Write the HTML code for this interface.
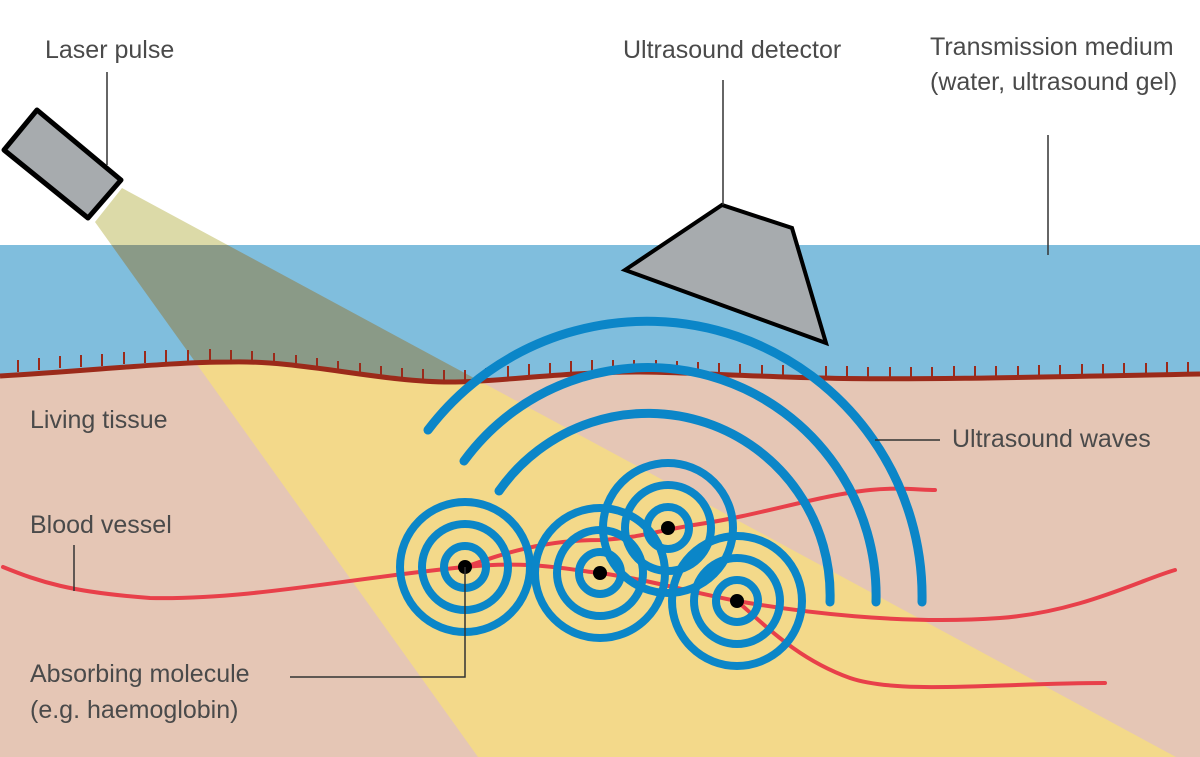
<!DOCTYPE html>
<html><head><meta charset="utf-8"><style>
html,body{margin:0;padding:0;background:#fff}
svg{display:block}
text{font-family:"Liberation Sans",sans-serif;font-size:25px;fill:#4a4a4a}
</style></head><body>
<svg width="1200" height="757" viewBox="0 0 1200 757" xmlns="http://www.w3.org/2000/svg">
<defs>
<clipPath id="air"><rect x="0" y="0" width="1200" height="245"/></clipPath>
<clipPath id="water"><path d="M0,245 H1200 V374 C1000,378 900,380 820,378 C740,376 680,372 640,372 C560,372 500,382 450,382 C380,382 300,360 230,362 C170,362 100,370 0,376 Z"/></clipPath>
<clipPath id="tissue"><path d="M0,757 H1200 V374 C1000,378 900,380 820,378 C740,376 680,372 640,372 C560,372 500,382 450,382 C380,382 300,360 230,362 C170,362 100,370 0,376 Z"/></clipPath>
</defs>
<rect x="0" y="245" width="1200" height="512" fill="#80bedd"/>
<path clip-path="url(#tissue)" d="M0,757 H1200 V300 H0 Z" fill="#e5c6b5"/>
<g>
<polygon clip-path="url(#air)" points="95,222 122,188 1200,770 478,757" fill="#dcdaa8"/>
<polygon clip-path="url(#water)" points="95,222 122,188 1200,770 478,757" fill="#8a9a87"/>
<polygon clip-path="url(#tissue)" points="95,222 122,188 1200,770 478,757" fill="#f3d98a"/>
</g>
<g stroke="#9b2a1a" stroke-width="2">
<path d="M18,372v-12M39,370v-12M60,368v-12M81,367v-12M102,366v-12M124,364v-12M145,363v-12M166,362v-12M188,362v-12M210,361v-12M231,362v-12M252,363v-12M274,365v-12M296,367v-12M317,370v-12M338,373v-12M360,375v-12M381,378v-12M402,380v-12M423,381v-12M444,382v-12M465,382v-12M486,380v-12M508,378v-12M529,376v-12M550,375v-12M571,373v-12M592,372v-12M613,372v-12M634,372v-12M656,372v-12M677,373v-12M698,374v-12M719,375v-12M740,376v-12M762,377v-12M783,377v-12M804,378v-12M826,378v-12M847,378v-12M868,379v-12M890,379v-12M911,379v-12M932,379v-12M954,378v-12M975,378v-12M996,378v-12M1018,378v-12M1039,377v-12M1060,377v-12M1082,376v-12M1103,376v-12M1124,375v-12M1146,375v-12M1167,374v-12M1188,374v-12"/>
</g>
<path d="M0,376 C100,370 170,362 230,362 C300,360 380,382 450,382 C500,382 560,372 640,372 C680,372 740,376 820,378 C900,380 1000,378 1200,374" fill="none" stroke="#9b2a1a" stroke-width="5"/>
<polygon points="37,110 4,150 88,218 121,180" fill="#a7abae" stroke="#000" stroke-width="5" stroke-linejoin="round"/>
<polygon points="625,270 722,205 792,228 826,343" fill="#a7abae" stroke="#000" stroke-width="4"/>
<g fill="none" stroke="#e8404a" stroke-width="4" stroke-linecap="round">
<path d="M3,567 C40,582 70,592 150,598 C250,600 350,578 465,567 C530,560 570,570 600,573 C650,580 690,592 737,601 C800,612 900,625 1000,618 C1080,612 1140,580 1175,570"/>
<path d="M465,567 C500,555 540,540 600,540 C640,538 660,530 700,524 C760,515 820,495 870,490 C900,487 920,490 935,490"/>
<path d="M737,601 C770,630 800,660 850,678 C900,695 1000,683 1105,683"/>
</g>
<g fill="none" stroke="#0b86c8" stroke-width="9" stroke-linecap="round">
<path d="M428,430 A275,275 0 0 1 922,602"/>
<path d="M464,461 A228,228 0 0 1 876,602"/>
<path d="M499,491 A182,182 0 0 1 830,602"/>
</g>
<g fill="none" stroke="#0b86c8" stroke-width="8">
<circle cx="465" cy="567" r="21"/><circle cx="465" cy="567" r="43"/><circle cx="465" cy="567" r="65"/>
<circle cx="600" cy="573" r="21"/><circle cx="600" cy="573" r="43"/><circle cx="600" cy="573" r="65"/>
<circle cx="668" cy="528" r="21"/><circle cx="668" cy="528" r="43"/><circle cx="668" cy="528" r="65"/>
<circle cx="737" cy="601" r="21"/><circle cx="737" cy="601" r="43"/><circle cx="737" cy="601" r="65"/>
</g>
<g fill="#000">
<circle cx="465" cy="567" r="7"/><circle cx="600" cy="573" r="7"/><circle cx="668" cy="528" r="7"/><circle cx="737" cy="601" r="7"/>
</g>
<g stroke="#333" stroke-width="1.5" fill="none">
<path d="M107,72V165"/>
<path d="M723,80V205"/>
<path d="M1048,135V255"/>
<path d="M74,545V591"/>
<path d="M875,440H940"/>
<path d="M290,677H465V567"/>
</g>
<text x="45" y="58">Laser pulse</text>
<text x="623" y="58">Ultrasound detector</text>
<text x="930" y="55">Transmission medium</text>
<text x="930" y="90">(water, ultrasound gel)</text>
<text x="30" y="428">Living tissue</text>
<text x="30" y="533">Blood vessel</text>
<text x="952" y="447">Ultrasound waves</text>
<text x="30" y="682">Absorbing molecule</text>
<text x="30" y="718">(e.g. haemoglobin)</text>
</svg>
</body></html>
